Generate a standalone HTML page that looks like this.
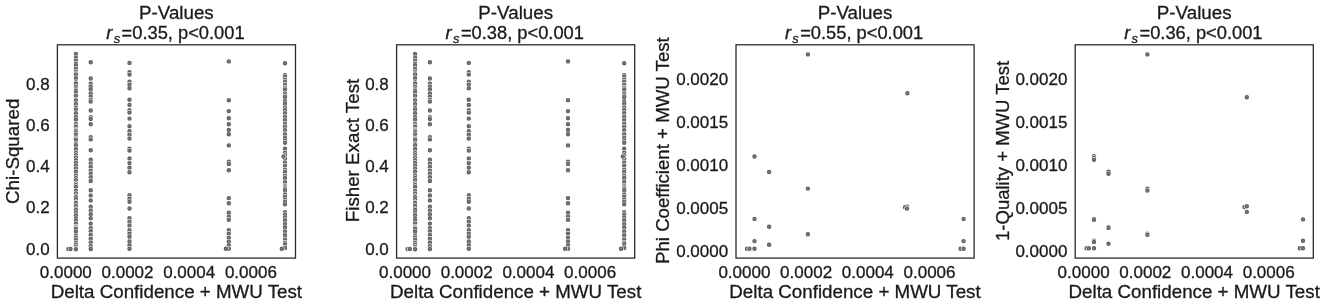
<!DOCTYPE html>
<html><head><meta charset="utf-8"><title>P-Values</title>
<style>
html,body{margin:0;padding:0;background:#fff;}
svg{display:block;font-family:"Liberation Sans", Arial, sans-serif;}
text{fill:#1a1a1a;stroke:#1a1a1a;stroke-width:0.3px;}
.t{font-size:18.75px;}
.k{font-size:17px;}
.w{fill:#fff;}
.g{fill:#828282;stroke:#606060;stroke-width:1.3;}
.ax{fill:none;stroke:#2b2b2b;stroke-width:1.3;}
</style></head><body>
<svg width="1325" height="304" viewBox="0 0 1325 304">

<rect x="0" y="0" width="1325" height="304" fill="#fff" stroke="none"/>

<!-- panel 1 -->
<rect class="ax" x="57.4" y="44.8" width="238.1" height="213.3"/>
<g class="d">
<circle class="w" cx="75.9" cy="54.0" r="2.65"/><circle class="g" cx="75.9" cy="54.0" r="1.55"/>
<circle class="w" cx="75.9" cy="57.8" r="2.65"/><circle class="g" cx="75.9" cy="57.8" r="1.55"/>
<circle class="w" cx="75.9" cy="60.5" r="2.65"/><circle class="g" cx="75.9" cy="60.5" r="1.55"/>
<circle class="w" cx="75.9" cy="63.7" r="2.65"/><circle class="g" cx="75.9" cy="63.7" r="1.55"/>
<circle class="w" cx="75.9" cy="65.3" r="2.65"/><circle class="g" cx="75.9" cy="65.3" r="1.55"/>
<circle class="w" cx="75.9" cy="68.9" r="2.65"/><circle class="g" cx="75.9" cy="68.9" r="1.55"/>
<circle class="w" cx="75.9" cy="71.6" r="2.65"/><circle class="g" cx="75.9" cy="71.6" r="1.55"/>
<circle class="w" cx="75.9" cy="73.4" r="2.65"/><circle class="g" cx="75.9" cy="73.4" r="1.55"/>
<circle class="w" cx="75.9" cy="74.5" r="2.65"/><circle class="g" cx="75.9" cy="74.5" r="1.55"/>
<circle class="w" cx="75.9" cy="78.1" r="2.65"/><circle class="g" cx="75.9" cy="78.1" r="1.55"/>
<circle class="w" cx="75.9" cy="82.2" r="2.65"/><circle class="g" cx="75.9" cy="82.2" r="1.55"/>
<circle class="w" cx="75.9" cy="83.4" r="2.65"/><circle class="g" cx="75.9" cy="83.4" r="1.55"/>
<circle class="w" cx="75.9" cy="86.9" r="2.65"/><circle class="g" cx="75.9" cy="86.9" r="1.55"/>
<circle class="w" cx="75.9" cy="89.1" r="2.65"/><circle class="g" cx="75.9" cy="89.1" r="1.55"/>
<circle class="w" cx="75.9" cy="90.5" r="2.65"/><circle class="g" cx="75.9" cy="90.5" r="1.55"/>
<circle class="w" cx="75.9" cy="92.3" r="2.65"/><circle class="g" cx="75.9" cy="92.3" r="1.55"/>
<circle class="w" cx="75.9" cy="95.7" r="2.65"/><circle class="g" cx="75.9" cy="95.7" r="1.55"/>
<circle class="w" cx="75.9" cy="99.4" r="2.65"/><circle class="g" cx="75.9" cy="99.4" r="1.55"/>
<circle class="w" cx="75.9" cy="100.4" r="2.65"/><circle class="g" cx="75.9" cy="100.4" r="1.55"/>
<circle class="w" cx="75.9" cy="103.3" r="2.65"/><circle class="g" cx="75.9" cy="103.3" r="1.55"/>
<circle class="w" cx="75.9" cy="104.3" r="2.65"/><circle class="g" cx="75.9" cy="104.3" r="1.55"/>
<circle class="w" cx="75.9" cy="107.5" r="2.65"/><circle class="g" cx="75.9" cy="107.5" r="1.55"/>
<circle class="w" cx="75.9" cy="109.4" r="2.65"/><circle class="g" cx="75.9" cy="109.4" r="1.55"/>
<circle class="w" cx="75.9" cy="113.2" r="2.65"/><circle class="g" cx="75.9" cy="113.2" r="1.55"/>
<circle class="w" cx="75.9" cy="117.2" r="2.65"/><circle class="g" cx="75.9" cy="117.2" r="1.55"/>
<circle class="w" cx="75.9" cy="119.8" r="2.65"/><circle class="g" cx="75.9" cy="119.8" r="1.55"/>
<circle class="w" cx="75.9" cy="123.9" r="2.65"/><circle class="g" cx="75.9" cy="123.9" r="1.55"/>
<circle class="w" cx="75.9" cy="125.8" r="2.65"/><circle class="g" cx="75.9" cy="125.8" r="1.55"/>
<circle class="w" cx="75.9" cy="126.9" r="2.65"/><circle class="g" cx="75.9" cy="126.9" r="1.55"/>
<circle class="w" cx="75.9" cy="129.7" r="2.65"/><circle class="g" cx="75.9" cy="129.7" r="1.55"/>
<circle class="w" cx="75.9" cy="130.7" r="2.65"/><circle class="g" cx="75.9" cy="130.7" r="1.55"/>
<circle class="w" cx="75.9" cy="132.2" r="2.65"/><circle class="g" cx="75.9" cy="132.2" r="1.55"/>
<circle class="w" cx="75.9" cy="134.4" r="2.65"/><circle class="g" cx="75.9" cy="134.4" r="1.55"/>
<circle class="w" cx="75.9" cy="137.3" r="2.65"/><circle class="g" cx="75.9" cy="137.3" r="1.55"/>
<circle class="w" cx="75.9" cy="138.6" r="2.65"/><circle class="g" cx="75.9" cy="138.6" r="1.55"/>
<circle class="w" cx="75.9" cy="139.7" r="2.65"/><circle class="g" cx="75.9" cy="139.7" r="1.55"/>
<circle class="w" cx="75.9" cy="143.4" r="2.65"/><circle class="g" cx="75.9" cy="143.4" r="1.55"/>
<circle class="w" cx="75.9" cy="145.2" r="2.65"/><circle class="g" cx="75.9" cy="145.2" r="1.55"/>
<circle class="w" cx="75.9" cy="149.2" r="2.65"/><circle class="g" cx="75.9" cy="149.2" r="1.55"/>
<circle class="w" cx="75.9" cy="153.0" r="2.65"/><circle class="g" cx="75.9" cy="153.0" r="1.55"/>
<circle class="w" cx="75.9" cy="155.1" r="2.65"/><circle class="g" cx="75.9" cy="155.1" r="1.55"/>
<circle class="w" cx="75.9" cy="157.5" r="2.65"/><circle class="g" cx="75.9" cy="157.5" r="1.55"/>
<circle class="w" cx="75.9" cy="160.1" r="2.65"/><circle class="g" cx="75.9" cy="160.1" r="1.55"/>
<circle class="w" cx="75.9" cy="163.0" r="2.65"/><circle class="g" cx="75.9" cy="163.0" r="1.55"/>
<circle class="w" cx="75.9" cy="165.8" r="2.65"/><circle class="g" cx="75.9" cy="165.8" r="1.55"/>
<circle class="w" cx="75.9" cy="168.5" r="2.65"/><circle class="g" cx="75.9" cy="168.5" r="1.55"/>
<circle class="w" cx="75.9" cy="171.4" r="2.65"/><circle class="g" cx="75.9" cy="171.4" r="1.55"/>
<circle class="w" cx="75.9" cy="175.4" r="2.65"/><circle class="g" cx="75.9" cy="175.4" r="1.55"/>
<circle class="w" cx="75.9" cy="177.9" r="2.65"/><circle class="g" cx="75.9" cy="177.9" r="1.55"/>
<circle class="w" cx="75.9" cy="180.2" r="2.65"/><circle class="g" cx="75.9" cy="180.2" r="1.55"/>
<circle class="w" cx="75.9" cy="183.4" r="2.65"/><circle class="g" cx="75.9" cy="183.4" r="1.55"/>
<circle class="w" cx="75.9" cy="185.0" r="2.65"/><circle class="g" cx="75.9" cy="185.0" r="1.55"/>
<circle class="w" cx="75.9" cy="186.9" r="2.65"/><circle class="g" cx="75.9" cy="186.9" r="1.55"/>
<circle class="w" cx="75.9" cy="190.9" r="2.65"/><circle class="g" cx="75.9" cy="190.9" r="1.55"/>
<circle class="w" cx="75.9" cy="193.5" r="2.65"/><circle class="g" cx="75.9" cy="193.5" r="1.55"/>
<circle class="w" cx="75.9" cy="196.2" r="2.65"/><circle class="g" cx="75.9" cy="196.2" r="1.55"/>
<circle class="w" cx="75.9" cy="197.1" r="2.65"/><circle class="g" cx="75.9" cy="197.1" r="1.55"/>
<circle class="w" cx="75.9" cy="199.3" r="2.65"/><circle class="g" cx="75.9" cy="199.3" r="1.55"/>
<circle class="w" cx="75.9" cy="202.1" r="2.65"/><circle class="g" cx="75.9" cy="202.1" r="1.55"/>
<circle class="w" cx="75.9" cy="203.0" r="2.65"/><circle class="g" cx="75.9" cy="203.0" r="1.55"/>
<circle class="w" cx="75.9" cy="205.9" r="2.65"/><circle class="g" cx="75.9" cy="205.9" r="1.55"/>
<circle class="w" cx="75.9" cy="208.8" r="2.65"/><circle class="g" cx="75.9" cy="208.8" r="1.55"/>
<circle class="w" cx="75.9" cy="209.9" r="2.65"/><circle class="g" cx="75.9" cy="209.9" r="1.55"/>
<circle class="w" cx="75.9" cy="212.8" r="2.65"/><circle class="g" cx="75.9" cy="212.8" r="1.55"/>
<circle class="w" cx="75.9" cy="215.2" r="2.65"/><circle class="g" cx="75.9" cy="215.2" r="1.55"/>
<circle class="w" cx="75.9" cy="218.3" r="2.65"/><circle class="g" cx="75.9" cy="218.3" r="1.55"/>
<circle class="w" cx="75.9" cy="220.3" r="2.65"/><circle class="g" cx="75.9" cy="220.3" r="1.55"/>
<circle class="w" cx="75.9" cy="223.4" r="2.65"/><circle class="g" cx="75.9" cy="223.4" r="1.55"/>
<circle class="w" cx="75.9" cy="226.7" r="2.65"/><circle class="g" cx="75.9" cy="226.7" r="1.55"/>
<circle class="w" cx="75.9" cy="227.7" r="2.65"/><circle class="g" cx="75.9" cy="227.7" r="1.55"/>
<circle class="w" cx="75.9" cy="228.7" r="2.65"/><circle class="g" cx="75.9" cy="228.7" r="1.55"/>
<circle class="w" cx="75.9" cy="231.8" r="2.65"/><circle class="g" cx="75.9" cy="231.8" r="1.55"/>
<circle class="w" cx="75.9" cy="235.8" r="2.65"/><circle class="g" cx="75.9" cy="235.8" r="1.55"/>
<circle class="w" cx="75.9" cy="237.5" r="2.65"/><circle class="g" cx="75.9" cy="237.5" r="1.55"/>
<circle class="w" cx="75.9" cy="239.9" r="2.65"/><circle class="g" cx="75.9" cy="239.9" r="1.55"/>
<circle class="w" cx="75.9" cy="242.7" r="2.65"/><circle class="g" cx="75.9" cy="242.7" r="1.55"/>
<circle class="w" cx="75.9" cy="244.6" r="2.65"/><circle class="g" cx="75.9" cy="244.6" r="1.55"/>
<circle class="w" cx="75.9" cy="246.6" r="2.65"/><circle class="g" cx="75.9" cy="246.6" r="1.55"/>
<circle class="w" cx="75.9" cy="248.5" r="2.65"/><circle class="g" cx="75.9" cy="248.5" r="1.55"/>
<circle class="w" cx="90.7" cy="62.3" r="2.65"/><circle class="g" cx="90.7" cy="62.3" r="1.55"/>
<circle class="w" cx="90.7" cy="78.5" r="2.65"/><circle class="g" cx="90.7" cy="78.5" r="1.55"/>
<circle class="w" cx="90.7" cy="83.6" r="2.65"/><circle class="g" cx="90.7" cy="83.6" r="1.55"/>
<circle class="w" cx="90.7" cy="86.5" r="2.65"/><circle class="g" cx="90.7" cy="86.5" r="1.55"/>
<circle class="w" cx="90.7" cy="89.3" r="2.65"/><circle class="g" cx="90.7" cy="89.3" r="1.55"/>
<circle class="w" cx="90.7" cy="93.4" r="2.65"/><circle class="g" cx="90.7" cy="93.4" r="1.55"/>
<circle class="w" cx="90.7" cy="96.8" r="2.65"/><circle class="g" cx="90.7" cy="96.8" r="1.55"/>
<circle class="w" cx="90.7" cy="99.7" r="2.65"/><circle class="g" cx="90.7" cy="99.7" r="1.55"/>
<circle class="w" cx="90.7" cy="101.5" r="2.65"/><circle class="g" cx="90.7" cy="101.5" r="1.55"/>
<circle class="w" cx="90.7" cy="110.5" r="2.65"/><circle class="g" cx="90.7" cy="110.5" r="1.55"/>
<circle class="w" cx="90.7" cy="117.1" r="2.65"/><circle class="g" cx="90.7" cy="117.1" r="1.55"/>
<circle class="w" cx="90.7" cy="119.0" r="2.65"/><circle class="g" cx="90.7" cy="119.0" r="1.55"/>
<circle class="w" cx="90.7" cy="124.3" r="2.65"/><circle class="g" cx="90.7" cy="124.3" r="1.55"/>
<circle class="w" cx="90.7" cy="137.1" r="2.65"/><circle class="g" cx="90.7" cy="137.1" r="1.55"/>
<circle class="w" cx="90.7" cy="139.4" r="2.65"/><circle class="g" cx="90.7" cy="139.4" r="1.55"/>
<circle class="w" cx="90.7" cy="150.3" r="2.65"/><circle class="g" cx="90.7" cy="150.3" r="1.55"/>
<circle class="w" cx="90.7" cy="159.7" r="2.65"/><circle class="g" cx="90.7" cy="159.7" r="1.55"/>
<circle class="w" cx="90.7" cy="163.5" r="2.65"/><circle class="g" cx="90.7" cy="163.5" r="1.55"/>
<circle class="w" cx="90.7" cy="166.9" r="2.65"/><circle class="g" cx="90.7" cy="166.9" r="1.55"/>
<circle class="w" cx="90.7" cy="170.6" r="2.65"/><circle class="g" cx="90.7" cy="170.6" r="1.55"/>
<circle class="w" cx="90.7" cy="173.5" r="2.65"/><circle class="g" cx="90.7" cy="173.5" r="1.55"/>
<circle class="w" cx="90.7" cy="177.2" r="2.65"/><circle class="g" cx="90.7" cy="177.2" r="1.55"/>
<circle class="w" cx="90.7" cy="181.0" r="2.65"/><circle class="g" cx="90.7" cy="181.0" r="1.55"/>
<circle class="w" cx="90.7" cy="190.2" r="2.65"/><circle class="g" cx="90.7" cy="190.2" r="1.55"/>
<circle class="w" cx="90.7" cy="195.4" r="2.65"/><circle class="g" cx="90.7" cy="195.4" r="1.55"/>
<circle class="w" cx="90.7" cy="200.4" r="2.65"/><circle class="g" cx="90.7" cy="200.4" r="1.55"/>
<circle class="w" cx="90.7" cy="206.7" r="2.65"/><circle class="g" cx="90.7" cy="206.7" r="1.55"/>
<circle class="w" cx="90.7" cy="210.4" r="2.65"/><circle class="g" cx="90.7" cy="210.4" r="1.55"/>
<circle class="w" cx="90.7" cy="214.2" r="2.65"/><circle class="g" cx="90.7" cy="214.2" r="1.55"/>
<circle class="w" cx="90.7" cy="218.3" r="2.65"/><circle class="g" cx="90.7" cy="218.3" r="1.55"/>
<circle class="w" cx="90.7" cy="223.6" r="2.65"/><circle class="g" cx="90.7" cy="223.6" r="1.55"/>
<circle class="w" cx="90.7" cy="228.3" r="2.65"/><circle class="g" cx="90.7" cy="228.3" r="1.55"/>
<circle class="w" cx="90.7" cy="231.1" r="2.65"/><circle class="g" cx="90.7" cy="231.1" r="1.55"/>
<circle class="w" cx="90.7" cy="234.9" r="2.65"/><circle class="g" cx="90.7" cy="234.9" r="1.55"/>
<circle class="w" cx="90.7" cy="238.7" r="2.65"/><circle class="g" cx="90.7" cy="238.7" r="1.55"/>
<circle class="w" cx="90.7" cy="242.5" r="2.65"/><circle class="g" cx="90.7" cy="242.5" r="1.55"/>
<circle class="w" cx="90.7" cy="246.2" r="2.65"/><circle class="g" cx="90.7" cy="246.2" r="1.55"/>
<circle class="w" cx="90.7" cy="249.0" r="2.65"/><circle class="g" cx="90.7" cy="249.0" r="1.55"/>
<circle class="w" cx="129.5" cy="62.9" r="2.65"/><circle class="g" cx="129.5" cy="62.9" r="1.55"/>
<circle class="w" cx="129.5" cy="72.3" r="2.65"/><circle class="g" cx="129.5" cy="72.3" r="1.55"/>
<circle class="w" cx="129.5" cy="74.6" r="2.65"/><circle class="g" cx="129.5" cy="74.6" r="1.55"/>
<circle class="w" cx="129.5" cy="81.7" r="2.65"/><circle class="g" cx="129.5" cy="81.7" r="1.55"/>
<circle class="w" cx="129.5" cy="84.6" r="2.65"/><circle class="g" cx="129.5" cy="84.6" r="1.55"/>
<circle class="w" cx="129.5" cy="88.3" r="2.65"/><circle class="g" cx="129.5" cy="88.3" r="1.55"/>
<circle class="w" cx="129.5" cy="99.8" r="2.65"/><circle class="g" cx="129.5" cy="99.8" r="1.55"/>
<circle class="w" cx="129.5" cy="104.9" r="2.65"/><circle class="g" cx="129.5" cy="104.9" r="1.55"/>
<circle class="w" cx="129.5" cy="110.2" r="2.65"/><circle class="g" cx="129.5" cy="110.2" r="1.55"/>
<circle class="w" cx="129.5" cy="112.6" r="2.65"/><circle class="g" cx="129.5" cy="112.6" r="1.55"/>
<circle class="w" cx="129.5" cy="118.6" r="2.65"/><circle class="g" cx="129.5" cy="118.6" r="1.55"/>
<circle class="w" cx="129.5" cy="126.2" r="2.65"/><circle class="g" cx="129.5" cy="126.2" r="1.55"/>
<circle class="w" cx="129.5" cy="131.3" r="2.65"/><circle class="g" cx="129.5" cy="131.3" r="1.55"/>
<circle class="w" cx="129.5" cy="134.7" r="2.65"/><circle class="g" cx="129.5" cy="134.7" r="1.55"/>
<circle class="w" cx="129.5" cy="138.5" r="2.65"/><circle class="g" cx="129.5" cy="138.5" r="1.55"/>
<circle class="w" cx="129.5" cy="148.8" r="2.65"/><circle class="g" cx="129.5" cy="148.8" r="1.55"/>
<circle class="w" cx="129.5" cy="150.6" r="2.65"/><circle class="g" cx="129.5" cy="150.6" r="1.55"/>
<circle class="w" cx="129.5" cy="158.4" r="2.65"/><circle class="g" cx="129.5" cy="158.4" r="1.55"/>
<circle class="w" cx="129.5" cy="163.1" r="2.65"/><circle class="g" cx="129.5" cy="163.1" r="1.55"/>
<circle class="w" cx="129.5" cy="167.8" r="2.65"/><circle class="g" cx="129.5" cy="167.8" r="1.55"/>
<circle class="w" cx="129.5" cy="172.2" r="2.65"/><circle class="g" cx="129.5" cy="172.2" r="1.55"/>
<circle class="w" cx="129.5" cy="195.2" r="2.65"/><circle class="g" cx="129.5" cy="195.2" r="1.55"/>
<circle class="w" cx="129.5" cy="198.6" r="2.65"/><circle class="g" cx="129.5" cy="198.6" r="1.55"/>
<circle class="w" cx="129.5" cy="201.8" r="2.65"/><circle class="g" cx="129.5" cy="201.8" r="1.55"/>
<circle class="w" cx="129.5" cy="208.5" r="2.65"/><circle class="g" cx="129.5" cy="208.5" r="1.55"/>
<circle class="w" cx="129.5" cy="218.3" r="2.65"/><circle class="g" cx="129.5" cy="218.3" r="1.55"/>
<circle class="w" cx="129.5" cy="221.7" r="2.65"/><circle class="g" cx="129.5" cy="221.7" r="1.55"/>
<circle class="w" cx="129.5" cy="225.5" r="2.65"/><circle class="g" cx="129.5" cy="225.5" r="1.55"/>
<circle class="w" cx="129.5" cy="230.2" r="2.65"/><circle class="g" cx="129.5" cy="230.2" r="1.55"/>
<circle class="w" cx="129.5" cy="233.6" r="2.65"/><circle class="g" cx="129.5" cy="233.6" r="1.55"/>
<circle class="w" cx="129.5" cy="236.8" r="2.65"/><circle class="g" cx="129.5" cy="236.8" r="1.55"/>
<circle class="w" cx="129.5" cy="241.5" r="2.65"/><circle class="g" cx="129.5" cy="241.5" r="1.55"/>
<circle class="w" cx="129.5" cy="245.3" r="2.65"/><circle class="g" cx="129.5" cy="245.3" r="1.55"/>
<circle class="w" cx="129.5" cy="248.7" r="2.65"/><circle class="g" cx="129.5" cy="248.7" r="1.55"/>
<circle class="w" cx="228.8" cy="61.4" r="2.65"/><circle class="g" cx="228.8" cy="61.4" r="1.55"/>
<circle class="w" cx="228.8" cy="100.2" r="2.65"/><circle class="g" cx="228.8" cy="100.2" r="1.55"/>
<circle class="w" cx="228.8" cy="111.1" r="2.65"/><circle class="g" cx="228.8" cy="111.1" r="1.55"/>
<circle class="w" cx="228.8" cy="118.3" r="2.65"/><circle class="g" cx="228.8" cy="118.3" r="1.55"/>
<circle class="w" cx="228.8" cy="124.3" r="2.65"/><circle class="g" cx="228.8" cy="124.3" r="1.55"/>
<circle class="w" cx="228.8" cy="130.0" r="2.65"/><circle class="g" cx="228.8" cy="130.0" r="1.55"/>
<circle class="w" cx="228.8" cy="134.3" r="2.65"/><circle class="g" cx="228.8" cy="134.3" r="1.55"/>
<circle class="w" cx="228.8" cy="145.4" r="2.65"/><circle class="g" cx="228.8" cy="145.4" r="1.55"/>
<circle class="w" cx="228.8" cy="161.6" r="2.65"/><circle class="g" cx="228.8" cy="161.6" r="1.55"/>
<circle class="w" cx="228.8" cy="164.0" r="2.65"/><circle class="g" cx="228.8" cy="164.0" r="1.55"/>
<circle class="w" cx="228.8" cy="170.3" r="2.65"/><circle class="g" cx="228.8" cy="170.3" r="1.55"/>
<circle class="w" cx="228.8" cy="198.1" r="2.65"/><circle class="g" cx="228.8" cy="198.1" r="1.55"/>
<circle class="w" cx="228.8" cy="203.3" r="2.65"/><circle class="g" cx="228.8" cy="203.3" r="1.55"/>
<circle class="w" cx="228.8" cy="212.7" r="2.65"/><circle class="g" cx="228.8" cy="212.7" r="1.55"/>
<circle class="w" cx="228.8" cy="216.8" r="2.65"/><circle class="g" cx="228.8" cy="216.8" r="1.55"/>
<circle class="w" cx="228.8" cy="219.7" r="2.65"/><circle class="g" cx="228.8" cy="219.7" r="1.55"/>
<circle class="w" cx="228.8" cy="230.2" r="2.65"/><circle class="g" cx="228.8" cy="230.2" r="1.55"/>
<circle class="w" cx="228.8" cy="233.6" r="2.65"/><circle class="g" cx="228.8" cy="233.6" r="1.55"/>
<circle class="w" cx="228.8" cy="237.7" r="2.65"/><circle class="g" cx="228.8" cy="237.7" r="1.55"/>
<circle class="w" cx="228.8" cy="241.5" r="2.65"/><circle class="g" cx="228.8" cy="241.5" r="1.55"/>
<circle class="w" cx="228.8" cy="245.3" r="2.65"/><circle class="g" cx="228.8" cy="245.3" r="1.55"/>
<circle class="w" cx="228.8" cy="248.7" r="2.65"/><circle class="g" cx="228.8" cy="248.7" r="1.55"/>
<circle class="w" cx="285.0" cy="63.2" r="2.65"/><circle class="g" cx="285.0" cy="63.2" r="1.55"/>
<circle class="w" cx="285.0" cy="75.1" r="2.65"/><circle class="g" cx="285.0" cy="75.1" r="1.55"/>
<circle class="w" cx="285.0" cy="76.8" r="2.65"/><circle class="g" cx="285.0" cy="76.8" r="1.55"/>
<circle class="w" cx="285.0" cy="79.6" r="2.65"/><circle class="g" cx="285.0" cy="79.6" r="1.55"/>
<circle class="w" cx="285.0" cy="81.7" r="2.65"/><circle class="g" cx="285.0" cy="81.7" r="1.55"/>
<circle class="w" cx="285.0" cy="84.7" r="2.65"/><circle class="g" cx="285.0" cy="84.7" r="1.55"/>
<circle class="w" cx="285.0" cy="87.7" r="2.65"/><circle class="g" cx="285.0" cy="87.7" r="1.55"/>
<circle class="w" cx="285.0" cy="88.8" r="2.65"/><circle class="g" cx="285.0" cy="88.8" r="1.55"/>
<circle class="w" cx="285.0" cy="89.8" r="2.65"/><circle class="g" cx="285.0" cy="89.8" r="1.55"/>
<circle class="w" cx="285.0" cy="93.5" r="2.65"/><circle class="g" cx="285.0" cy="93.5" r="1.55"/>
<circle class="w" cx="285.0" cy="95.3" r="2.65"/><circle class="g" cx="285.0" cy="95.3" r="1.55"/>
<circle class="w" cx="285.0" cy="97.0" r="2.65"/><circle class="g" cx="285.0" cy="97.0" r="1.55"/>
<circle class="w" cx="285.0" cy="101.3" r="2.65"/><circle class="g" cx="285.0" cy="101.3" r="1.55"/>
<circle class="w" cx="285.0" cy="103.8" r="2.65"/><circle class="g" cx="285.0" cy="103.8" r="1.55"/>
<circle class="w" cx="285.0" cy="107.5" r="2.65"/><circle class="g" cx="285.0" cy="107.5" r="1.55"/>
<circle class="w" cx="285.0" cy="110.0" r="2.65"/><circle class="g" cx="285.0" cy="110.0" r="1.55"/>
<circle class="w" cx="285.0" cy="113.1" r="2.65"/><circle class="g" cx="285.0" cy="113.1" r="1.55"/>
<circle class="w" cx="285.0" cy="117.0" r="2.65"/><circle class="g" cx="285.0" cy="117.0" r="1.55"/>
<circle class="w" cx="285.0" cy="120.1" r="2.65"/><circle class="g" cx="285.0" cy="120.1" r="1.55"/>
<circle class="w" cx="285.0" cy="124.0" r="2.65"/><circle class="g" cx="285.0" cy="124.0" r="1.55"/>
<circle class="w" cx="285.0" cy="126.7" r="2.65"/><circle class="g" cx="285.0" cy="126.7" r="1.55"/>
<circle class="w" cx="285.0" cy="130.1" r="2.65"/><circle class="g" cx="285.0" cy="130.1" r="1.55"/>
<circle class="w" cx="285.0" cy="133.3" r="2.65"/><circle class="g" cx="285.0" cy="133.3" r="1.55"/>
<circle class="w" cx="285.0" cy="134.4" r="2.65"/><circle class="g" cx="285.0" cy="134.4" r="1.55"/>
<circle class="w" cx="285.0" cy="137.9" r="2.65"/><circle class="g" cx="285.0" cy="137.9" r="1.55"/>
<circle class="w" cx="285.0" cy="140.8" r="2.65"/><circle class="g" cx="285.0" cy="140.8" r="1.55"/>
<circle class="w" cx="285.0" cy="142.7" r="2.65"/><circle class="g" cx="285.0" cy="142.7" r="1.55"/>
<circle class="w" cx="285.0" cy="148.8" r="2.65"/><circle class="g" cx="285.0" cy="148.8" r="1.55"/>
<circle class="w" cx="285.0" cy="152.6" r="2.65"/><circle class="g" cx="285.0" cy="152.6" r="1.55"/>
<circle class="w" cx="285.0" cy="155.1" r="2.65"/><circle class="g" cx="285.0" cy="155.1" r="1.55"/>
<circle class="w" cx="285.0" cy="158.5" r="2.65"/><circle class="g" cx="285.0" cy="158.5" r="1.55"/>
<circle class="w" cx="285.0" cy="162.4" r="2.65"/><circle class="g" cx="285.0" cy="162.4" r="1.55"/>
<circle class="w" cx="285.0" cy="165.7" r="2.65"/><circle class="g" cx="285.0" cy="165.7" r="1.55"/>
<circle class="w" cx="285.0" cy="169.7" r="2.65"/><circle class="g" cx="285.0" cy="169.7" r="1.55"/>
<circle class="w" cx="285.0" cy="172.0" r="2.65"/><circle class="g" cx="285.0" cy="172.0" r="1.55"/>
<circle class="w" cx="285.0" cy="175.6" r="2.65"/><circle class="g" cx="285.0" cy="175.6" r="1.55"/>
<circle class="w" cx="285.0" cy="178.0" r="2.65"/><circle class="g" cx="285.0" cy="178.0" r="1.55"/>
<circle class="w" cx="285.0" cy="182.1" r="2.65"/><circle class="g" cx="285.0" cy="182.1" r="1.55"/>
<circle class="w" cx="285.0" cy="185.9" r="2.65"/><circle class="g" cx="285.0" cy="185.9" r="1.55"/>
<circle class="w" cx="285.0" cy="187.2" r="2.65"/><circle class="g" cx="285.0" cy="187.2" r="1.55"/>
<circle class="w" cx="285.0" cy="188.5" r="2.65"/><circle class="g" cx="285.0" cy="188.5" r="1.55"/>
<circle class="w" cx="285.0" cy="190.2" r="2.65"/><circle class="g" cx="285.0" cy="190.2" r="1.55"/>
<circle class="w" cx="285.0" cy="194.4" r="2.65"/><circle class="g" cx="285.0" cy="194.4" r="1.55"/>
<circle class="w" cx="285.0" cy="196.7" r="2.65"/><circle class="g" cx="285.0" cy="196.7" r="1.55"/>
<circle class="w" cx="285.0" cy="199.8" r="2.65"/><circle class="g" cx="285.0" cy="199.8" r="1.55"/>
<circle class="w" cx="285.0" cy="201.7" r="2.65"/><circle class="g" cx="285.0" cy="201.7" r="1.55"/>
<circle class="w" cx="285.0" cy="204.3" r="2.65"/><circle class="g" cx="285.0" cy="204.3" r="1.55"/>
<circle class="w" cx="285.0" cy="212.3" r="2.65"/><circle class="g" cx="285.0" cy="212.3" r="1.55"/>
<circle class="w" cx="285.0" cy="214.4" r="2.65"/><circle class="g" cx="285.0" cy="214.4" r="1.55"/>
<circle class="w" cx="285.0" cy="217.3" r="2.65"/><circle class="g" cx="285.0" cy="217.3" r="1.55"/>
<circle class="w" cx="285.0" cy="220.2" r="2.65"/><circle class="g" cx="285.0" cy="220.2" r="1.55"/>
<circle class="w" cx="285.0" cy="224.1" r="2.65"/><circle class="g" cx="285.0" cy="224.1" r="1.55"/>
<circle class="w" cx="285.0" cy="227.3" r="2.65"/><circle class="g" cx="285.0" cy="227.3" r="1.55"/>
<circle class="w" cx="285.0" cy="231.4" r="2.65"/><circle class="g" cx="285.0" cy="231.4" r="1.55"/>
<circle class="w" cx="285.0" cy="235.2" r="2.65"/><circle class="g" cx="285.0" cy="235.2" r="1.55"/>
<circle class="w" cx="285.0" cy="239.5" r="2.65"/><circle class="g" cx="285.0" cy="239.5" r="1.55"/>
<circle class="w" cx="285.0" cy="242.6" r="2.65"/><circle class="g" cx="285.0" cy="242.6" r="1.55"/>
<circle class="w" cx="285.0" cy="244.1" r="2.65"/><circle class="g" cx="285.0" cy="244.1" r="1.55"/>
<circle class="w" cx="285.0" cy="247.9" r="2.65"/><circle class="g" cx="285.0" cy="247.9" r="1.55"/>
<circle class="w" cx="68.4" cy="249.0" r="2.65"/><circle class="g" cx="68.4" cy="249.0" r="1.55"/>
<circle class="w" cx="70.5" cy="249.0" r="2.65"/><circle class="g" cx="70.5" cy="249.0" r="1.55"/>
<circle class="w" cx="75.9" cy="249.2" r="2.65"/><circle class="g" cx="75.9" cy="249.2" r="1.55"/>
<circle class="w" cx="225.9" cy="248.7" r="2.65"/><circle class="g" cx="225.9" cy="248.7" r="1.55"/>
<circle class="w" cx="281.8" cy="248.7" r="2.65"/><circle class="g" cx="281.8" cy="248.7" r="1.55"/>
<circle class="w" cx="283.5" cy="156.5" r="2.65"/><circle class="g" cx="283.5" cy="156.5" r="1.55"/>
</g>
<text class="t" x="176.4" y="19" text-anchor="middle">P-Values</text>
<text class="t" y="39.2" style="font-size:18.3px"><tspan x="106.3" font-style="italic">r</tspan><tspan x="113.7" dy="3.3" font-style="italic" font-size="12.9px">s</tspan><tspan x="121.6" dy="-3.3">=0.35, p&lt;0.001</tspan></text>
<text class="k" x="65.8" y="277.8" text-anchor="middle">0.0000</text>
<text class="k" x="127.5" y="277.8" text-anchor="middle">0.0002</text>
<text class="k" x="189.2" y="277.8" text-anchor="middle">0.0004</text>
<text class="k" x="250.9" y="277.8" text-anchor="middle">0.0006</text>
<text class="t" x="176.4" y="298.3" text-anchor="middle">Delta Confidence + MWU Test</text>
<text class="k" x="49.6" y="254.5" text-anchor="end">0.0</text>
<text class="k" x="49.6" y="213.3" text-anchor="end">0.2</text>
<text class="k" x="49.6" y="172.1" text-anchor="end">0.4</text>
<text class="k" x="49.6" y="131.0" text-anchor="end">0.6</text>
<text class="k" x="49.6" y="89.8" text-anchor="end">0.8</text>
<text class="t" style="font-size:18.75px" transform="translate(19.0,151.3) rotate(-90)" text-anchor="middle">Chi-Squared</text>
<!-- panel 2 -->
<rect class="ax" x="396.6" y="44.8" width="238.1" height="213.3"/>
<g class="d">
<circle class="w" cx="415.1" cy="54.0" r="2.65"/><circle class="g" cx="415.1" cy="54.0" r="1.55"/>
<circle class="w" cx="415.1" cy="57.8" r="2.65"/><circle class="g" cx="415.1" cy="57.8" r="1.55"/>
<circle class="w" cx="415.1" cy="60.5" r="2.65"/><circle class="g" cx="415.1" cy="60.5" r="1.55"/>
<circle class="w" cx="415.1" cy="63.7" r="2.65"/><circle class="g" cx="415.1" cy="63.7" r="1.55"/>
<circle class="w" cx="415.1" cy="65.3" r="2.65"/><circle class="g" cx="415.1" cy="65.3" r="1.55"/>
<circle class="w" cx="415.1" cy="68.9" r="2.65"/><circle class="g" cx="415.1" cy="68.9" r="1.55"/>
<circle class="w" cx="415.1" cy="71.6" r="2.65"/><circle class="g" cx="415.1" cy="71.6" r="1.55"/>
<circle class="w" cx="415.1" cy="73.4" r="2.65"/><circle class="g" cx="415.1" cy="73.4" r="1.55"/>
<circle class="w" cx="415.1" cy="74.5" r="2.65"/><circle class="g" cx="415.1" cy="74.5" r="1.55"/>
<circle class="w" cx="415.1" cy="78.1" r="2.65"/><circle class="g" cx="415.1" cy="78.1" r="1.55"/>
<circle class="w" cx="415.1" cy="82.2" r="2.65"/><circle class="g" cx="415.1" cy="82.2" r="1.55"/>
<circle class="w" cx="415.1" cy="83.4" r="2.65"/><circle class="g" cx="415.1" cy="83.4" r="1.55"/>
<circle class="w" cx="415.1" cy="86.9" r="2.65"/><circle class="g" cx="415.1" cy="86.9" r="1.55"/>
<circle class="w" cx="415.1" cy="89.1" r="2.65"/><circle class="g" cx="415.1" cy="89.1" r="1.55"/>
<circle class="w" cx="415.1" cy="90.5" r="2.65"/><circle class="g" cx="415.1" cy="90.5" r="1.55"/>
<circle class="w" cx="415.1" cy="92.3" r="2.65"/><circle class="g" cx="415.1" cy="92.3" r="1.55"/>
<circle class="w" cx="415.1" cy="95.7" r="2.65"/><circle class="g" cx="415.1" cy="95.7" r="1.55"/>
<circle class="w" cx="415.1" cy="99.4" r="2.65"/><circle class="g" cx="415.1" cy="99.4" r="1.55"/>
<circle class="w" cx="415.1" cy="100.4" r="2.65"/><circle class="g" cx="415.1" cy="100.4" r="1.55"/>
<circle class="w" cx="415.1" cy="103.3" r="2.65"/><circle class="g" cx="415.1" cy="103.3" r="1.55"/>
<circle class="w" cx="415.1" cy="104.3" r="2.65"/><circle class="g" cx="415.1" cy="104.3" r="1.55"/>
<circle class="w" cx="415.1" cy="107.5" r="2.65"/><circle class="g" cx="415.1" cy="107.5" r="1.55"/>
<circle class="w" cx="415.1" cy="109.4" r="2.65"/><circle class="g" cx="415.1" cy="109.4" r="1.55"/>
<circle class="w" cx="415.1" cy="113.2" r="2.65"/><circle class="g" cx="415.1" cy="113.2" r="1.55"/>
<circle class="w" cx="415.1" cy="117.2" r="2.65"/><circle class="g" cx="415.1" cy="117.2" r="1.55"/>
<circle class="w" cx="415.1" cy="119.8" r="2.65"/><circle class="g" cx="415.1" cy="119.8" r="1.55"/>
<circle class="w" cx="415.1" cy="123.9" r="2.65"/><circle class="g" cx="415.1" cy="123.9" r="1.55"/>
<circle class="w" cx="415.1" cy="125.8" r="2.65"/><circle class="g" cx="415.1" cy="125.8" r="1.55"/>
<circle class="w" cx="415.1" cy="126.9" r="2.65"/><circle class="g" cx="415.1" cy="126.9" r="1.55"/>
<circle class="w" cx="415.1" cy="129.7" r="2.65"/><circle class="g" cx="415.1" cy="129.7" r="1.55"/>
<circle class="w" cx="415.1" cy="130.7" r="2.65"/><circle class="g" cx="415.1" cy="130.7" r="1.55"/>
<circle class="w" cx="415.1" cy="132.2" r="2.65"/><circle class="g" cx="415.1" cy="132.2" r="1.55"/>
<circle class="w" cx="415.1" cy="134.4" r="2.65"/><circle class="g" cx="415.1" cy="134.4" r="1.55"/>
<circle class="w" cx="415.1" cy="137.3" r="2.65"/><circle class="g" cx="415.1" cy="137.3" r="1.55"/>
<circle class="w" cx="415.1" cy="138.6" r="2.65"/><circle class="g" cx="415.1" cy="138.6" r="1.55"/>
<circle class="w" cx="415.1" cy="139.7" r="2.65"/><circle class="g" cx="415.1" cy="139.7" r="1.55"/>
<circle class="w" cx="415.1" cy="143.4" r="2.65"/><circle class="g" cx="415.1" cy="143.4" r="1.55"/>
<circle class="w" cx="415.1" cy="145.2" r="2.65"/><circle class="g" cx="415.1" cy="145.2" r="1.55"/>
<circle class="w" cx="415.1" cy="149.2" r="2.65"/><circle class="g" cx="415.1" cy="149.2" r="1.55"/>
<circle class="w" cx="415.1" cy="153.0" r="2.65"/><circle class="g" cx="415.1" cy="153.0" r="1.55"/>
<circle class="w" cx="415.1" cy="155.1" r="2.65"/><circle class="g" cx="415.1" cy="155.1" r="1.55"/>
<circle class="w" cx="415.1" cy="157.5" r="2.65"/><circle class="g" cx="415.1" cy="157.5" r="1.55"/>
<circle class="w" cx="415.1" cy="160.1" r="2.65"/><circle class="g" cx="415.1" cy="160.1" r="1.55"/>
<circle class="w" cx="415.1" cy="163.0" r="2.65"/><circle class="g" cx="415.1" cy="163.0" r="1.55"/>
<circle class="w" cx="415.1" cy="165.8" r="2.65"/><circle class="g" cx="415.1" cy="165.8" r="1.55"/>
<circle class="w" cx="415.1" cy="168.5" r="2.65"/><circle class="g" cx="415.1" cy="168.5" r="1.55"/>
<circle class="w" cx="415.1" cy="171.4" r="2.65"/><circle class="g" cx="415.1" cy="171.4" r="1.55"/>
<circle class="w" cx="415.1" cy="175.4" r="2.65"/><circle class="g" cx="415.1" cy="175.4" r="1.55"/>
<circle class="w" cx="415.1" cy="177.9" r="2.65"/><circle class="g" cx="415.1" cy="177.9" r="1.55"/>
<circle class="w" cx="415.1" cy="180.2" r="2.65"/><circle class="g" cx="415.1" cy="180.2" r="1.55"/>
<circle class="w" cx="415.1" cy="183.4" r="2.65"/><circle class="g" cx="415.1" cy="183.4" r="1.55"/>
<circle class="w" cx="415.1" cy="185.0" r="2.65"/><circle class="g" cx="415.1" cy="185.0" r="1.55"/>
<circle class="w" cx="415.1" cy="186.9" r="2.65"/><circle class="g" cx="415.1" cy="186.9" r="1.55"/>
<circle class="w" cx="415.1" cy="190.9" r="2.65"/><circle class="g" cx="415.1" cy="190.9" r="1.55"/>
<circle class="w" cx="415.1" cy="193.5" r="2.65"/><circle class="g" cx="415.1" cy="193.5" r="1.55"/>
<circle class="w" cx="415.1" cy="196.2" r="2.65"/><circle class="g" cx="415.1" cy="196.2" r="1.55"/>
<circle class="w" cx="415.1" cy="197.1" r="2.65"/><circle class="g" cx="415.1" cy="197.1" r="1.55"/>
<circle class="w" cx="415.1" cy="199.3" r="2.65"/><circle class="g" cx="415.1" cy="199.3" r="1.55"/>
<circle class="w" cx="415.1" cy="202.1" r="2.65"/><circle class="g" cx="415.1" cy="202.1" r="1.55"/>
<circle class="w" cx="415.1" cy="203.0" r="2.65"/><circle class="g" cx="415.1" cy="203.0" r="1.55"/>
<circle class="w" cx="415.1" cy="205.9" r="2.65"/><circle class="g" cx="415.1" cy="205.9" r="1.55"/>
<circle class="w" cx="415.1" cy="208.8" r="2.65"/><circle class="g" cx="415.1" cy="208.8" r="1.55"/>
<circle class="w" cx="415.1" cy="209.9" r="2.65"/><circle class="g" cx="415.1" cy="209.9" r="1.55"/>
<circle class="w" cx="415.1" cy="212.8" r="2.65"/><circle class="g" cx="415.1" cy="212.8" r="1.55"/>
<circle class="w" cx="415.1" cy="215.2" r="2.65"/><circle class="g" cx="415.1" cy="215.2" r="1.55"/>
<circle class="w" cx="415.1" cy="218.3" r="2.65"/><circle class="g" cx="415.1" cy="218.3" r="1.55"/>
<circle class="w" cx="415.1" cy="220.3" r="2.65"/><circle class="g" cx="415.1" cy="220.3" r="1.55"/>
<circle class="w" cx="415.1" cy="223.4" r="2.65"/><circle class="g" cx="415.1" cy="223.4" r="1.55"/>
<circle class="w" cx="415.1" cy="226.7" r="2.65"/><circle class="g" cx="415.1" cy="226.7" r="1.55"/>
<circle class="w" cx="415.1" cy="227.7" r="2.65"/><circle class="g" cx="415.1" cy="227.7" r="1.55"/>
<circle class="w" cx="415.1" cy="228.7" r="2.65"/><circle class="g" cx="415.1" cy="228.7" r="1.55"/>
<circle class="w" cx="415.1" cy="231.8" r="2.65"/><circle class="g" cx="415.1" cy="231.8" r="1.55"/>
<circle class="w" cx="415.1" cy="235.8" r="2.65"/><circle class="g" cx="415.1" cy="235.8" r="1.55"/>
<circle class="w" cx="415.1" cy="237.5" r="2.65"/><circle class="g" cx="415.1" cy="237.5" r="1.55"/>
<circle class="w" cx="415.1" cy="239.9" r="2.65"/><circle class="g" cx="415.1" cy="239.9" r="1.55"/>
<circle class="w" cx="415.1" cy="242.7" r="2.65"/><circle class="g" cx="415.1" cy="242.7" r="1.55"/>
<circle class="w" cx="415.1" cy="244.6" r="2.65"/><circle class="g" cx="415.1" cy="244.6" r="1.55"/>
<circle class="w" cx="415.1" cy="246.6" r="2.65"/><circle class="g" cx="415.1" cy="246.6" r="1.55"/>
<circle class="w" cx="415.1" cy="248.5" r="2.65"/><circle class="g" cx="415.1" cy="248.5" r="1.55"/>
<circle class="w" cx="429.9" cy="62.3" r="2.65"/><circle class="g" cx="429.9" cy="62.3" r="1.55"/>
<circle class="w" cx="429.9" cy="78.5" r="2.65"/><circle class="g" cx="429.9" cy="78.5" r="1.55"/>
<circle class="w" cx="429.9" cy="83.6" r="2.65"/><circle class="g" cx="429.9" cy="83.6" r="1.55"/>
<circle class="w" cx="429.9" cy="86.5" r="2.65"/><circle class="g" cx="429.9" cy="86.5" r="1.55"/>
<circle class="w" cx="429.9" cy="89.3" r="2.65"/><circle class="g" cx="429.9" cy="89.3" r="1.55"/>
<circle class="w" cx="429.9" cy="93.4" r="2.65"/><circle class="g" cx="429.9" cy="93.4" r="1.55"/>
<circle class="w" cx="429.9" cy="96.8" r="2.65"/><circle class="g" cx="429.9" cy="96.8" r="1.55"/>
<circle class="w" cx="429.9" cy="99.7" r="2.65"/><circle class="g" cx="429.9" cy="99.7" r="1.55"/>
<circle class="w" cx="429.9" cy="101.5" r="2.65"/><circle class="g" cx="429.9" cy="101.5" r="1.55"/>
<circle class="w" cx="429.9" cy="110.5" r="2.65"/><circle class="g" cx="429.9" cy="110.5" r="1.55"/>
<circle class="w" cx="429.9" cy="117.1" r="2.65"/><circle class="g" cx="429.9" cy="117.1" r="1.55"/>
<circle class="w" cx="429.9" cy="119.0" r="2.65"/><circle class="g" cx="429.9" cy="119.0" r="1.55"/>
<circle class="w" cx="429.9" cy="124.3" r="2.65"/><circle class="g" cx="429.9" cy="124.3" r="1.55"/>
<circle class="w" cx="429.9" cy="137.1" r="2.65"/><circle class="g" cx="429.9" cy="137.1" r="1.55"/>
<circle class="w" cx="429.9" cy="139.4" r="2.65"/><circle class="g" cx="429.9" cy="139.4" r="1.55"/>
<circle class="w" cx="429.9" cy="150.3" r="2.65"/><circle class="g" cx="429.9" cy="150.3" r="1.55"/>
<circle class="w" cx="429.9" cy="159.7" r="2.65"/><circle class="g" cx="429.9" cy="159.7" r="1.55"/>
<circle class="w" cx="429.9" cy="163.5" r="2.65"/><circle class="g" cx="429.9" cy="163.5" r="1.55"/>
<circle class="w" cx="429.9" cy="166.9" r="2.65"/><circle class="g" cx="429.9" cy="166.9" r="1.55"/>
<circle class="w" cx="429.9" cy="170.6" r="2.65"/><circle class="g" cx="429.9" cy="170.6" r="1.55"/>
<circle class="w" cx="429.9" cy="173.5" r="2.65"/><circle class="g" cx="429.9" cy="173.5" r="1.55"/>
<circle class="w" cx="429.9" cy="177.2" r="2.65"/><circle class="g" cx="429.9" cy="177.2" r="1.55"/>
<circle class="w" cx="429.9" cy="181.0" r="2.65"/><circle class="g" cx="429.9" cy="181.0" r="1.55"/>
<circle class="w" cx="429.9" cy="190.2" r="2.65"/><circle class="g" cx="429.9" cy="190.2" r="1.55"/>
<circle class="w" cx="429.9" cy="195.4" r="2.65"/><circle class="g" cx="429.9" cy="195.4" r="1.55"/>
<circle class="w" cx="429.9" cy="200.4" r="2.65"/><circle class="g" cx="429.9" cy="200.4" r="1.55"/>
<circle class="w" cx="429.9" cy="206.7" r="2.65"/><circle class="g" cx="429.9" cy="206.7" r="1.55"/>
<circle class="w" cx="429.9" cy="210.4" r="2.65"/><circle class="g" cx="429.9" cy="210.4" r="1.55"/>
<circle class="w" cx="429.9" cy="214.2" r="2.65"/><circle class="g" cx="429.9" cy="214.2" r="1.55"/>
<circle class="w" cx="429.9" cy="218.3" r="2.65"/><circle class="g" cx="429.9" cy="218.3" r="1.55"/>
<circle class="w" cx="429.9" cy="223.6" r="2.65"/><circle class="g" cx="429.9" cy="223.6" r="1.55"/>
<circle class="w" cx="429.9" cy="228.3" r="2.65"/><circle class="g" cx="429.9" cy="228.3" r="1.55"/>
<circle class="w" cx="429.9" cy="231.1" r="2.65"/><circle class="g" cx="429.9" cy="231.1" r="1.55"/>
<circle class="w" cx="429.9" cy="234.9" r="2.65"/><circle class="g" cx="429.9" cy="234.9" r="1.55"/>
<circle class="w" cx="429.9" cy="238.7" r="2.65"/><circle class="g" cx="429.9" cy="238.7" r="1.55"/>
<circle class="w" cx="429.9" cy="242.5" r="2.65"/><circle class="g" cx="429.9" cy="242.5" r="1.55"/>
<circle class="w" cx="429.9" cy="246.2" r="2.65"/><circle class="g" cx="429.9" cy="246.2" r="1.55"/>
<circle class="w" cx="429.9" cy="249.0" r="2.65"/><circle class="g" cx="429.9" cy="249.0" r="1.55"/>
<circle class="w" cx="468.8" cy="62.9" r="2.65"/><circle class="g" cx="468.8" cy="62.9" r="1.55"/>
<circle class="w" cx="468.8" cy="72.3" r="2.65"/><circle class="g" cx="468.8" cy="72.3" r="1.55"/>
<circle class="w" cx="468.8" cy="74.6" r="2.65"/><circle class="g" cx="468.8" cy="74.6" r="1.55"/>
<circle class="w" cx="468.8" cy="81.7" r="2.65"/><circle class="g" cx="468.8" cy="81.7" r="1.55"/>
<circle class="w" cx="468.8" cy="84.6" r="2.65"/><circle class="g" cx="468.8" cy="84.6" r="1.55"/>
<circle class="w" cx="468.8" cy="88.3" r="2.65"/><circle class="g" cx="468.8" cy="88.3" r="1.55"/>
<circle class="w" cx="468.8" cy="99.8" r="2.65"/><circle class="g" cx="468.8" cy="99.8" r="1.55"/>
<circle class="w" cx="468.8" cy="104.9" r="2.65"/><circle class="g" cx="468.8" cy="104.9" r="1.55"/>
<circle class="w" cx="468.8" cy="110.2" r="2.65"/><circle class="g" cx="468.8" cy="110.2" r="1.55"/>
<circle class="w" cx="468.8" cy="112.6" r="2.65"/><circle class="g" cx="468.8" cy="112.6" r="1.55"/>
<circle class="w" cx="468.8" cy="118.6" r="2.65"/><circle class="g" cx="468.8" cy="118.6" r="1.55"/>
<circle class="w" cx="468.8" cy="126.2" r="2.65"/><circle class="g" cx="468.8" cy="126.2" r="1.55"/>
<circle class="w" cx="468.8" cy="131.3" r="2.65"/><circle class="g" cx="468.8" cy="131.3" r="1.55"/>
<circle class="w" cx="468.8" cy="134.7" r="2.65"/><circle class="g" cx="468.8" cy="134.7" r="1.55"/>
<circle class="w" cx="468.8" cy="138.5" r="2.65"/><circle class="g" cx="468.8" cy="138.5" r="1.55"/>
<circle class="w" cx="468.8" cy="148.8" r="2.65"/><circle class="g" cx="468.8" cy="148.8" r="1.55"/>
<circle class="w" cx="468.8" cy="150.6" r="2.65"/><circle class="g" cx="468.8" cy="150.6" r="1.55"/>
<circle class="w" cx="468.8" cy="158.4" r="2.65"/><circle class="g" cx="468.8" cy="158.4" r="1.55"/>
<circle class="w" cx="468.8" cy="163.1" r="2.65"/><circle class="g" cx="468.8" cy="163.1" r="1.55"/>
<circle class="w" cx="468.8" cy="167.8" r="2.65"/><circle class="g" cx="468.8" cy="167.8" r="1.55"/>
<circle class="w" cx="468.8" cy="172.2" r="2.65"/><circle class="g" cx="468.8" cy="172.2" r="1.55"/>
<circle class="w" cx="468.8" cy="195.2" r="2.65"/><circle class="g" cx="468.8" cy="195.2" r="1.55"/>
<circle class="w" cx="468.8" cy="198.6" r="2.65"/><circle class="g" cx="468.8" cy="198.6" r="1.55"/>
<circle class="w" cx="468.8" cy="201.8" r="2.65"/><circle class="g" cx="468.8" cy="201.8" r="1.55"/>
<circle class="w" cx="468.8" cy="208.5" r="2.65"/><circle class="g" cx="468.8" cy="208.5" r="1.55"/>
<circle class="w" cx="468.8" cy="218.3" r="2.65"/><circle class="g" cx="468.8" cy="218.3" r="1.55"/>
<circle class="w" cx="468.8" cy="221.7" r="2.65"/><circle class="g" cx="468.8" cy="221.7" r="1.55"/>
<circle class="w" cx="468.8" cy="225.5" r="2.65"/><circle class="g" cx="468.8" cy="225.5" r="1.55"/>
<circle class="w" cx="468.8" cy="230.2" r="2.65"/><circle class="g" cx="468.8" cy="230.2" r="1.55"/>
<circle class="w" cx="468.8" cy="233.6" r="2.65"/><circle class="g" cx="468.8" cy="233.6" r="1.55"/>
<circle class="w" cx="468.8" cy="236.8" r="2.65"/><circle class="g" cx="468.8" cy="236.8" r="1.55"/>
<circle class="w" cx="468.8" cy="241.5" r="2.65"/><circle class="g" cx="468.8" cy="241.5" r="1.55"/>
<circle class="w" cx="468.8" cy="245.3" r="2.65"/><circle class="g" cx="468.8" cy="245.3" r="1.55"/>
<circle class="w" cx="468.8" cy="248.7" r="2.65"/><circle class="g" cx="468.8" cy="248.7" r="1.55"/>
<circle class="w" cx="568.0" cy="61.4" r="2.65"/><circle class="g" cx="568.0" cy="61.4" r="1.55"/>
<circle class="w" cx="568.0" cy="100.2" r="2.65"/><circle class="g" cx="568.0" cy="100.2" r="1.55"/>
<circle class="w" cx="568.0" cy="111.1" r="2.65"/><circle class="g" cx="568.0" cy="111.1" r="1.55"/>
<circle class="w" cx="568.0" cy="118.3" r="2.65"/><circle class="g" cx="568.0" cy="118.3" r="1.55"/>
<circle class="w" cx="568.0" cy="124.3" r="2.65"/><circle class="g" cx="568.0" cy="124.3" r="1.55"/>
<circle class="w" cx="568.0" cy="130.0" r="2.65"/><circle class="g" cx="568.0" cy="130.0" r="1.55"/>
<circle class="w" cx="568.0" cy="134.3" r="2.65"/><circle class="g" cx="568.0" cy="134.3" r="1.55"/>
<circle class="w" cx="568.0" cy="145.4" r="2.65"/><circle class="g" cx="568.0" cy="145.4" r="1.55"/>
<circle class="w" cx="568.0" cy="161.6" r="2.65"/><circle class="g" cx="568.0" cy="161.6" r="1.55"/>
<circle class="w" cx="568.0" cy="164.0" r="2.65"/><circle class="g" cx="568.0" cy="164.0" r="1.55"/>
<circle class="w" cx="568.0" cy="170.3" r="2.65"/><circle class="g" cx="568.0" cy="170.3" r="1.55"/>
<circle class="w" cx="568.0" cy="198.1" r="2.65"/><circle class="g" cx="568.0" cy="198.1" r="1.55"/>
<circle class="w" cx="568.0" cy="203.3" r="2.65"/><circle class="g" cx="568.0" cy="203.3" r="1.55"/>
<circle class="w" cx="568.0" cy="212.7" r="2.65"/><circle class="g" cx="568.0" cy="212.7" r="1.55"/>
<circle class="w" cx="568.0" cy="216.8" r="2.65"/><circle class="g" cx="568.0" cy="216.8" r="1.55"/>
<circle class="w" cx="568.0" cy="219.7" r="2.65"/><circle class="g" cx="568.0" cy="219.7" r="1.55"/>
<circle class="w" cx="568.0" cy="230.2" r="2.65"/><circle class="g" cx="568.0" cy="230.2" r="1.55"/>
<circle class="w" cx="568.0" cy="233.6" r="2.65"/><circle class="g" cx="568.0" cy="233.6" r="1.55"/>
<circle class="w" cx="568.0" cy="237.7" r="2.65"/><circle class="g" cx="568.0" cy="237.7" r="1.55"/>
<circle class="w" cx="568.0" cy="241.5" r="2.65"/><circle class="g" cx="568.0" cy="241.5" r="1.55"/>
<circle class="w" cx="568.0" cy="245.3" r="2.65"/><circle class="g" cx="568.0" cy="245.3" r="1.55"/>
<circle class="w" cx="568.0" cy="248.7" r="2.65"/><circle class="g" cx="568.0" cy="248.7" r="1.55"/>
<circle class="w" cx="624.2" cy="63.2" r="2.65"/><circle class="g" cx="624.2" cy="63.2" r="1.55"/>
<circle class="w" cx="624.2" cy="75.1" r="2.65"/><circle class="g" cx="624.2" cy="75.1" r="1.55"/>
<circle class="w" cx="624.2" cy="76.8" r="2.65"/><circle class="g" cx="624.2" cy="76.8" r="1.55"/>
<circle class="w" cx="624.2" cy="79.6" r="2.65"/><circle class="g" cx="624.2" cy="79.6" r="1.55"/>
<circle class="w" cx="624.2" cy="81.7" r="2.65"/><circle class="g" cx="624.2" cy="81.7" r="1.55"/>
<circle class="w" cx="624.2" cy="84.7" r="2.65"/><circle class="g" cx="624.2" cy="84.7" r="1.55"/>
<circle class="w" cx="624.2" cy="87.7" r="2.65"/><circle class="g" cx="624.2" cy="87.7" r="1.55"/>
<circle class="w" cx="624.2" cy="88.8" r="2.65"/><circle class="g" cx="624.2" cy="88.8" r="1.55"/>
<circle class="w" cx="624.2" cy="89.8" r="2.65"/><circle class="g" cx="624.2" cy="89.8" r="1.55"/>
<circle class="w" cx="624.2" cy="93.5" r="2.65"/><circle class="g" cx="624.2" cy="93.5" r="1.55"/>
<circle class="w" cx="624.2" cy="95.3" r="2.65"/><circle class="g" cx="624.2" cy="95.3" r="1.55"/>
<circle class="w" cx="624.2" cy="97.0" r="2.65"/><circle class="g" cx="624.2" cy="97.0" r="1.55"/>
<circle class="w" cx="624.2" cy="101.3" r="2.65"/><circle class="g" cx="624.2" cy="101.3" r="1.55"/>
<circle class="w" cx="624.2" cy="103.8" r="2.65"/><circle class="g" cx="624.2" cy="103.8" r="1.55"/>
<circle class="w" cx="624.2" cy="107.5" r="2.65"/><circle class="g" cx="624.2" cy="107.5" r="1.55"/>
<circle class="w" cx="624.2" cy="110.0" r="2.65"/><circle class="g" cx="624.2" cy="110.0" r="1.55"/>
<circle class="w" cx="624.2" cy="113.1" r="2.65"/><circle class="g" cx="624.2" cy="113.1" r="1.55"/>
<circle class="w" cx="624.2" cy="117.0" r="2.65"/><circle class="g" cx="624.2" cy="117.0" r="1.55"/>
<circle class="w" cx="624.2" cy="120.1" r="2.65"/><circle class="g" cx="624.2" cy="120.1" r="1.55"/>
<circle class="w" cx="624.2" cy="124.0" r="2.65"/><circle class="g" cx="624.2" cy="124.0" r="1.55"/>
<circle class="w" cx="624.2" cy="126.7" r="2.65"/><circle class="g" cx="624.2" cy="126.7" r="1.55"/>
<circle class="w" cx="624.2" cy="130.1" r="2.65"/><circle class="g" cx="624.2" cy="130.1" r="1.55"/>
<circle class="w" cx="624.2" cy="133.3" r="2.65"/><circle class="g" cx="624.2" cy="133.3" r="1.55"/>
<circle class="w" cx="624.2" cy="134.4" r="2.65"/><circle class="g" cx="624.2" cy="134.4" r="1.55"/>
<circle class="w" cx="624.2" cy="137.9" r="2.65"/><circle class="g" cx="624.2" cy="137.9" r="1.55"/>
<circle class="w" cx="624.2" cy="140.8" r="2.65"/><circle class="g" cx="624.2" cy="140.8" r="1.55"/>
<circle class="w" cx="624.2" cy="142.7" r="2.65"/><circle class="g" cx="624.2" cy="142.7" r="1.55"/>
<circle class="w" cx="624.2" cy="148.8" r="2.65"/><circle class="g" cx="624.2" cy="148.8" r="1.55"/>
<circle class="w" cx="624.2" cy="152.6" r="2.65"/><circle class="g" cx="624.2" cy="152.6" r="1.55"/>
<circle class="w" cx="624.2" cy="155.1" r="2.65"/><circle class="g" cx="624.2" cy="155.1" r="1.55"/>
<circle class="w" cx="624.2" cy="158.5" r="2.65"/><circle class="g" cx="624.2" cy="158.5" r="1.55"/>
<circle class="w" cx="624.2" cy="162.4" r="2.65"/><circle class="g" cx="624.2" cy="162.4" r="1.55"/>
<circle class="w" cx="624.2" cy="165.7" r="2.65"/><circle class="g" cx="624.2" cy="165.7" r="1.55"/>
<circle class="w" cx="624.2" cy="169.7" r="2.65"/><circle class="g" cx="624.2" cy="169.7" r="1.55"/>
<circle class="w" cx="624.2" cy="172.0" r="2.65"/><circle class="g" cx="624.2" cy="172.0" r="1.55"/>
<circle class="w" cx="624.2" cy="175.6" r="2.65"/><circle class="g" cx="624.2" cy="175.6" r="1.55"/>
<circle class="w" cx="624.2" cy="178.0" r="2.65"/><circle class="g" cx="624.2" cy="178.0" r="1.55"/>
<circle class="w" cx="624.2" cy="182.1" r="2.65"/><circle class="g" cx="624.2" cy="182.1" r="1.55"/>
<circle class="w" cx="624.2" cy="185.9" r="2.65"/><circle class="g" cx="624.2" cy="185.9" r="1.55"/>
<circle class="w" cx="624.2" cy="187.2" r="2.65"/><circle class="g" cx="624.2" cy="187.2" r="1.55"/>
<circle class="w" cx="624.2" cy="188.5" r="2.65"/><circle class="g" cx="624.2" cy="188.5" r="1.55"/>
<circle class="w" cx="624.2" cy="190.2" r="2.65"/><circle class="g" cx="624.2" cy="190.2" r="1.55"/>
<circle class="w" cx="624.2" cy="194.4" r="2.65"/><circle class="g" cx="624.2" cy="194.4" r="1.55"/>
<circle class="w" cx="624.2" cy="196.7" r="2.65"/><circle class="g" cx="624.2" cy="196.7" r="1.55"/>
<circle class="w" cx="624.2" cy="199.8" r="2.65"/><circle class="g" cx="624.2" cy="199.8" r="1.55"/>
<circle class="w" cx="624.2" cy="201.7" r="2.65"/><circle class="g" cx="624.2" cy="201.7" r="1.55"/>
<circle class="w" cx="624.2" cy="204.3" r="2.65"/><circle class="g" cx="624.2" cy="204.3" r="1.55"/>
<circle class="w" cx="624.2" cy="212.3" r="2.65"/><circle class="g" cx="624.2" cy="212.3" r="1.55"/>
<circle class="w" cx="624.2" cy="214.4" r="2.65"/><circle class="g" cx="624.2" cy="214.4" r="1.55"/>
<circle class="w" cx="624.2" cy="217.3" r="2.65"/><circle class="g" cx="624.2" cy="217.3" r="1.55"/>
<circle class="w" cx="624.2" cy="220.2" r="2.65"/><circle class="g" cx="624.2" cy="220.2" r="1.55"/>
<circle class="w" cx="624.2" cy="224.1" r="2.65"/><circle class="g" cx="624.2" cy="224.1" r="1.55"/>
<circle class="w" cx="624.2" cy="227.3" r="2.65"/><circle class="g" cx="624.2" cy="227.3" r="1.55"/>
<circle class="w" cx="624.2" cy="231.4" r="2.65"/><circle class="g" cx="624.2" cy="231.4" r="1.55"/>
<circle class="w" cx="624.2" cy="235.2" r="2.65"/><circle class="g" cx="624.2" cy="235.2" r="1.55"/>
<circle class="w" cx="624.2" cy="239.5" r="2.65"/><circle class="g" cx="624.2" cy="239.5" r="1.55"/>
<circle class="w" cx="624.2" cy="242.6" r="2.65"/><circle class="g" cx="624.2" cy="242.6" r="1.55"/>
<circle class="w" cx="624.2" cy="244.1" r="2.65"/><circle class="g" cx="624.2" cy="244.1" r="1.55"/>
<circle class="w" cx="624.2" cy="247.9" r="2.65"/><circle class="g" cx="624.2" cy="247.9" r="1.55"/>
<circle class="w" cx="407.6" cy="249.0" r="2.65"/><circle class="g" cx="407.6" cy="249.0" r="1.55"/>
<circle class="w" cx="409.8" cy="249.0" r="2.65"/><circle class="g" cx="409.8" cy="249.0" r="1.55"/>
<circle class="w" cx="415.1" cy="249.2" r="2.65"/><circle class="g" cx="415.1" cy="249.2" r="1.55"/>
<circle class="w" cx="565.1" cy="248.7" r="2.65"/><circle class="g" cx="565.1" cy="248.7" r="1.55"/>
<circle class="w" cx="621.0" cy="248.7" r="2.65"/><circle class="g" cx="621.0" cy="248.7" r="1.55"/>
<circle class="w" cx="622.8" cy="156.5" r="2.65"/><circle class="g" cx="622.8" cy="156.5" r="1.55"/>
</g>
<text class="t" x="515.7" y="19" text-anchor="middle">P-Values</text>
<text class="t" y="39.2" style="font-size:18.3px"><tspan x="445.6" font-style="italic">r</tspan><tspan x="453.0" dy="3.3" font-style="italic" font-size="12.9px">s</tspan><tspan x="460.9" dy="-3.3">=0.38, p&lt;0.001</tspan></text>
<text class="k" x="405.0" y="277.8" text-anchor="middle">0.0000</text>
<text class="k" x="466.7" y="277.8" text-anchor="middle">0.0002</text>
<text class="k" x="528.4" y="277.8" text-anchor="middle">0.0004</text>
<text class="k" x="590.1" y="277.8" text-anchor="middle">0.0006</text>
<text class="t" x="515.7" y="298.3" text-anchor="middle">Delta Confidence + MWU Test</text>
<text class="k" x="388.8" y="254.5" text-anchor="end">0.0</text>
<text class="k" x="388.8" y="213.3" text-anchor="end">0.2</text>
<text class="k" x="388.8" y="172.1" text-anchor="end">0.4</text>
<text class="k" x="388.8" y="131.0" text-anchor="end">0.6</text>
<text class="k" x="388.8" y="89.8" text-anchor="end">0.8</text>
<text class="t" style="font-size:18.75px" transform="translate(358.6,150.5) rotate(-90)" text-anchor="middle">Fisher Exact Test</text>
<!-- panel 3 -->
<rect class="ax" x="736.0" y="44.8" width="238.1" height="213.3"/>
<g class="d">
<circle class="w" cx="807.9" cy="54.4" r="2.65"/><circle class="g" cx="807.9" cy="54.4" r="1.55"/>
<circle class="w" cx="907.4" cy="93.2" r="2.65"/><circle class="g" cx="907.4" cy="93.2" r="1.55"/>
<circle class="w" cx="754.5" cy="156.5" r="2.65"/><circle class="g" cx="754.5" cy="156.5" r="1.55"/>
<circle class="w" cx="769.1" cy="172.0" r="2.65"/><circle class="g" cx="769.1" cy="172.0" r="1.55"/>
<circle class="w" cx="807.9" cy="188.6" r="2.65"/><circle class="g" cx="807.9" cy="188.6" r="1.55"/>
<circle class="w" cx="907.0" cy="206.6" r="2.65"/><circle class="g" cx="907.0" cy="206.6" r="1.55"/>
<circle class="w" cx="905.0" cy="207.2" r="2.65"/><circle class="g" cx="905.0" cy="207.2" r="1.55"/>
<circle class="w" cx="907.0" cy="208.5" r="2.65"/><circle class="g" cx="907.0" cy="208.5" r="1.55"/>
<circle class="w" cx="754.5" cy="218.9" r="2.65"/><circle class="g" cx="754.5" cy="218.9" r="1.55"/>
<circle class="w" cx="769.1" cy="226.8" r="2.65"/><circle class="g" cx="769.1" cy="226.8" r="1.55"/>
<circle class="w" cx="807.9" cy="234.2" r="2.65"/><circle class="g" cx="807.9" cy="234.2" r="1.55"/>
<circle class="w" cx="754.5" cy="241.1" r="2.65"/><circle class="g" cx="754.5" cy="241.1" r="1.55"/>
<circle class="w" cx="769.1" cy="244.7" r="2.65"/><circle class="g" cx="769.1" cy="244.7" r="1.55"/>
<circle class="w" cx="747.0" cy="248.7" r="2.65"/><circle class="g" cx="747.0" cy="248.7" r="1.55"/>
<circle class="w" cx="749.4" cy="248.7" r="2.65"/><circle class="g" cx="749.4" cy="248.7" r="1.55"/>
<circle class="w" cx="754.5" cy="248.7" r="2.65"/><circle class="g" cx="754.5" cy="248.7" r="1.55"/>
<circle class="w" cx="963.6" cy="218.9" r="2.65"/><circle class="g" cx="963.6" cy="218.9" r="1.55"/>
<circle class="w" cx="963.6" cy="241.1" r="2.65"/><circle class="g" cx="963.6" cy="241.1" r="1.55"/>
<circle class="w" cx="960.6" cy="248.7" r="2.65"/><circle class="g" cx="960.6" cy="248.7" r="1.55"/>
<circle class="w" cx="963.6" cy="248.7" r="2.65"/><circle class="g" cx="963.6" cy="248.7" r="1.55"/>
</g>
<text class="t" x="855.0" y="19" text-anchor="middle">P-Values</text>
<text class="t" y="39.2" style="font-size:18.3px"><tspan x="784.9" font-style="italic">r</tspan><tspan x="792.3" dy="3.3" font-style="italic" font-size="12.9px">s</tspan><tspan x="800.2" dy="-3.3">=0.55, p&lt;0.001</tspan></text>
<text class="k" x="744.4" y="277.8" text-anchor="middle">0.0000</text>
<text class="k" x="806.1" y="277.8" text-anchor="middle">0.0002</text>
<text class="k" x="867.8" y="277.8" text-anchor="middle">0.0004</text>
<text class="k" x="929.5" y="277.8" text-anchor="middle">0.0006</text>
<text class="t" x="855.0" y="298.3" text-anchor="middle">Delta Confidence + MWU Test</text>
<text class="k" x="728.2" y="257.0" text-anchor="end">0.0000</text>
<text class="k" x="728.2" y="213.9" text-anchor="end">0.0005</text>
<text class="k" x="728.2" y="170.8" text-anchor="end">0.0010</text>
<text class="k" x="728.2" y="127.7" text-anchor="end">0.0015</text>
<text class="k" x="728.2" y="84.6" text-anchor="end">0.0020</text>
<text class="t" style="font-size:18.65px" transform="translate(669.3,150.6) rotate(-90)" text-anchor="middle">Phi Coefficient + MWU Test</text>
<!-- panel 4 -->
<rect class="ax" x="1075.2" y="44.8" width="238.1" height="213.3"/>
<g class="d">
<circle class="w" cx="1147.4" cy="54.4" r="2.65"/><circle class="g" cx="1147.4" cy="54.4" r="1.55"/>
<circle class="w" cx="1246.8" cy="97.2" r="2.65"/><circle class="g" cx="1246.8" cy="97.2" r="1.55"/>
<circle class="w" cx="1094.0" cy="156.1" r="2.65"/><circle class="g" cx="1094.0" cy="156.1" r="1.55"/>
<circle class="w" cx="1094.0" cy="157.9" r="2.65"/><circle class="g" cx="1094.0" cy="157.9" r="1.55"/>
<circle class="w" cx="1094.0" cy="159.7" r="2.65"/><circle class="g" cx="1094.0" cy="159.7" r="1.55"/>
<circle class="w" cx="1108.5" cy="171.6" r="2.65"/><circle class="g" cx="1108.5" cy="171.6" r="1.55"/>
<circle class="w" cx="1108.5" cy="173.8" r="2.65"/><circle class="g" cx="1108.5" cy="173.8" r="1.55"/>
<circle class="w" cx="1147.4" cy="188.6" r="2.65"/><circle class="g" cx="1147.4" cy="188.6" r="1.55"/>
<circle class="w" cx="1147.4" cy="190.5" r="2.65"/><circle class="g" cx="1147.4" cy="190.5" r="1.55"/>
<circle class="w" cx="1094.0" cy="218.9" r="2.65"/><circle class="g" cx="1094.0" cy="218.9" r="1.55"/>
<circle class="w" cx="1094.0" cy="219.8" r="2.65"/><circle class="g" cx="1094.0" cy="219.8" r="1.55"/>
<circle class="w" cx="1108.5" cy="227.0" r="2.65"/><circle class="g" cx="1108.5" cy="227.0" r="1.55"/>
<circle class="w" cx="1108.5" cy="227.9" r="2.65"/><circle class="g" cx="1108.5" cy="227.9" r="1.55"/>
<circle class="w" cx="1147.4" cy="233.6" r="2.65"/><circle class="g" cx="1147.4" cy="233.6" r="1.55"/>
<circle class="w" cx="1147.4" cy="234.7" r="2.65"/><circle class="g" cx="1147.4" cy="234.7" r="1.55"/>
<circle class="w" cx="1094.0" cy="240.6" r="2.65"/><circle class="g" cx="1094.0" cy="240.6" r="1.55"/>
<circle class="w" cx="1094.0" cy="241.9" r="2.65"/><circle class="g" cx="1094.0" cy="241.9" r="1.55"/>
<circle class="w" cx="1108.5" cy="243.8" r="2.65"/><circle class="g" cx="1108.5" cy="243.8" r="1.55"/>
<circle class="w" cx="1086.6" cy="248.3" r="2.65"/><circle class="g" cx="1086.6" cy="248.3" r="1.55"/>
<circle class="w" cx="1088.9" cy="248.3" r="2.65"/><circle class="g" cx="1088.9" cy="248.3" r="1.55"/>
<circle class="w" cx="1094.0" cy="248.3" r="2.65"/><circle class="g" cx="1094.0" cy="248.3" r="1.55"/>
<circle class="w" cx="1244.5" cy="207.0" r="2.65"/><circle class="g" cx="1244.5" cy="207.0" r="1.55"/>
<circle class="w" cx="1246.8" cy="206.2" r="2.65"/><circle class="g" cx="1246.8" cy="206.2" r="1.55"/>
<circle class="w" cx="1246.8" cy="211.9" r="2.65"/><circle class="g" cx="1246.8" cy="211.9" r="1.55"/>
<circle class="w" cx="1303.0" cy="219.4" r="2.65"/><circle class="g" cx="1303.0" cy="219.4" r="1.55"/>
<circle class="w" cx="1303.0" cy="240.8" r="2.65"/><circle class="g" cx="1303.0" cy="240.8" r="1.55"/>
<circle class="w" cx="1299.8" cy="248.3" r="2.65"/><circle class="g" cx="1299.8" cy="248.3" r="1.55"/>
<circle class="w" cx="1303.0" cy="248.3" r="2.65"/><circle class="g" cx="1303.0" cy="248.3" r="1.55"/>
</g>
<text class="t" x="1194.2" y="19" text-anchor="middle">P-Values</text>
<text class="t" y="39.2" style="font-size:18.3px"><tspan x="1124.2" font-style="italic">r</tspan><tspan x="1131.5" dy="3.3" font-style="italic" font-size="12.9px">s</tspan><tspan x="1139.5" dy="-3.3">=0.36, p&lt;0.001</tspan></text>
<text class="k" x="1083.6" y="277.8" text-anchor="middle">0.0000</text>
<text class="k" x="1145.3" y="277.8" text-anchor="middle">0.0002</text>
<text class="k" x="1207.0" y="277.8" text-anchor="middle">0.0004</text>
<text class="k" x="1268.7" y="277.8" text-anchor="middle">0.0006</text>
<text class="t" x="1194.2" y="298.3" text-anchor="middle">Delta Confidence + MWU Test</text>
<text class="k" x="1067.4" y="257.0" text-anchor="end">0.0000</text>
<text class="k" x="1067.4" y="213.9" text-anchor="end">0.0005</text>
<text class="k" x="1067.4" y="170.8" text-anchor="end">0.0010</text>
<text class="k" x="1067.4" y="127.7" text-anchor="end">0.0015</text>
<text class="k" x="1067.4" y="84.6" text-anchor="end">0.0020</text>
<text class="t" style="font-size:18.5px" transform="translate(1008.6,150.9) rotate(-90)" text-anchor="middle">1-Quality + MWU Test</text>
</svg></body></html>
